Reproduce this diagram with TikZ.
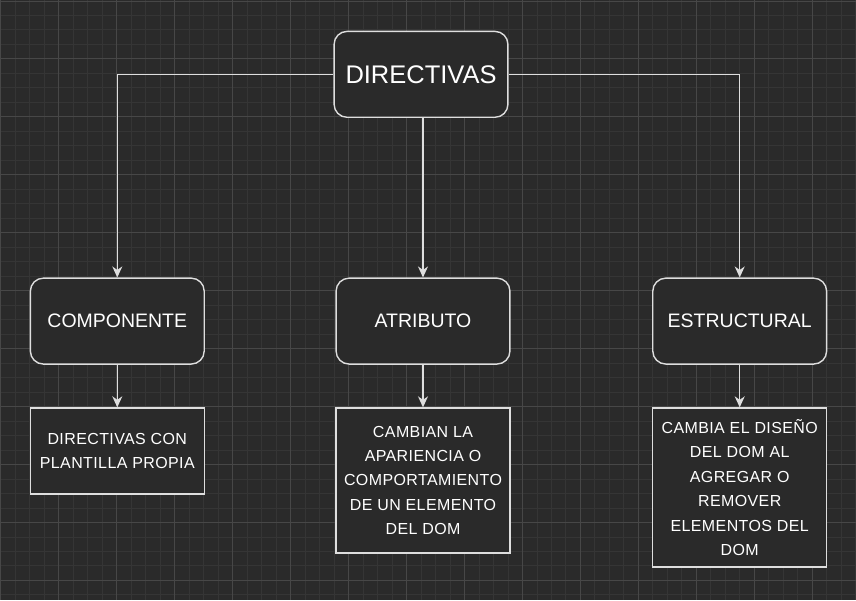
\documentclass[tikz,border=0pt]{standalone}
\usepackage{fontspec}
\setmainfont{Liberation Sans}
\newfontfamily\notefont[LetterSpace=2.5]{Liberation Sans}
\usetikzlibrary{positioning,arrows.meta}
\definecolor{bgdark}{HTML}{2A2A2A}
\definecolor{gridminor}{HTML}{353535}
\definecolor{gridmajor}{HTML}{474747}
\definecolor{edgegray}{HTML}{DEDEDE}
\tikzset{
  levelbox/.style={draw=edgegray,fill=bgdark,text=white,line width=1.4pt,
    rounded corners=13pt,minimum width=174pt,minimum height=86pt,inner sep=0pt},
  notebox/.style={draw=edgegray,fill=bgdark,text=white,line width=1.4pt,
    minimum width=174pt,inner sep=0pt,align=center,
    font=\notefont\fontsize{16}{24.5}\selectfont},
  link/.style={draw=edgegray,line width=1.4pt,-{Stealth[length=11pt,width=10pt,inset=3.5pt]}}
}
\begin{document}
\begin{tikzpicture}[x=1pt,y=-1pt]
    \fill[bgdark] (0,0) rectangle (856,600);
    \foreach \x in {0.5,15,...,856}{
      \draw[gridminor,line width=0.8pt] (\x,0) -- (\x,600);
    }
    \foreach \y in {0.5,15,...,600}{
      \draw[gridminor,line width=0.8pt] (0,\y) -- (856,\y);
    }
    \foreach \x in {0.5,58.5,...,856}{
      \draw[gridmajor,line width=0.8pt] (\x,0) -- (\x,600);
    }
    \foreach \y in {0.5,58.5,...,600}{
      \draw[gridmajor,line width=0.8pt] (0,\y) -- (856,\y);
    }

    \node[levelbox,font=\fontsize{25.5}{30}\selectfont] (dir) at (421,74) {DIRECTIVAS};
    \node[levelbox,font=\fontsize{19.5}{24}\selectfont] (comp) at (117,321) {COMPONENTE};
    \node[levelbox,font=\fontsize{19.5}{24}\selectfont] (atr) at (423,321) {ATRIBUTO};
    \node[levelbox,font=\fontsize{19.5}{24}\selectfont] (estr) at (740,321) {ESTRUCTURAL};

    \node[notebox,minimum height=86pt] (compnote) at (117,451) {DIRECTIVAS CON\\PLANTILLA PROPIA};
    \node[notebox,minimum height=145pt] (atrnote) at (423,480.5) {CAMBIAN LA\\APARIENCIA O\\COMPORTAMIENTO\\DE UN ELEMENTO\\DEL DOM};
    \node[notebox,minimum height=159pt] (estrnote) at (740,487.5) {CAMBIA EL DISEÑO\\DEL DOM AL\\AGREGAR O\\REMOVER\\ELEMENTOS DEL\\DOM};

    \draw[link] (dir.west) -| (comp.north);
    \draw[link] (dir.east) -| (estr.north);
    \draw[link] (atr.north |- dir.south) -- (atr.north);
    \draw[link] (comp.south) -- (compnote.north);
    \draw[link] (atr.south) -- (atrnote.north);
    \draw[link] (estr.south) -- (estrnote.north);
\end{tikzpicture}
\end{document}
